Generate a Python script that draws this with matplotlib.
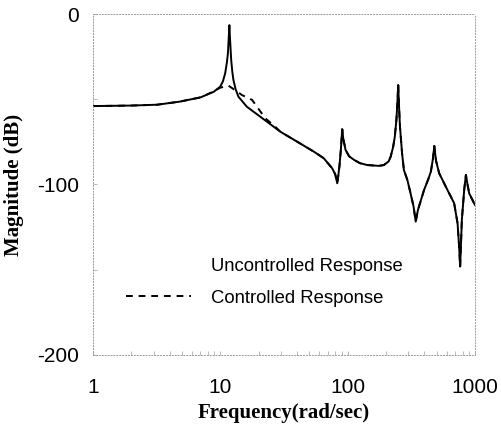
import numpy as np
import matplotlib.pyplot as plt
from matplotlib.ticker import FixedLocator, NullFormatter

# uncontrolled response (rad/sec, dB)
freq_unc = [1, 2, 3.2, 4.8, 7.0, 8.9, 10.0, 10.5, 10.95, 11.3, 11.5, 11.7, 11.8, 11.95,
            12.2, 12.45, 12.7, 13.2, 13.9, 16.2, 20.6, 29.6, 40.2, 54.5, 65, 75.7, 80,
            83, 84.5, 86.3, 88.5, 90.8, 92.5, 96.5, 103, 112.6, 125, 143, 176, 193, 210,
            218, 228, 235, 242, 246, 250, 254, 258, 268, 277, 295, 312, 330, 343, 357,
            399, 430, 451, 468, 480, 495, 524, 591, 687, 731, 752, 766, 790, 824, 850,
            875, 902, 1000]
mag_unc = [-54.0, -53.7, -53.2, -51.4, -48.9, -45.6, -42.6, -39.5, -34.6, -28.0, -22.9,
           -12.0, -6.5, -15.0, -27.0, -34.0, -38.7, -44.0, -48.5, -54.4, -60.2, -69.0,
           -74.9, -80.8, -84.6, -90.5, -94.0, -99.3, -95.0, -89.5, -80.0, -67.6, -73.0,
           -79.8, -83.5, -85.6, -87.5, -88.6, -89.1, -88.6, -86.5, -83.7, -78.0, -72.0,
           -62.0, -52.4, -41.6, -55.0, -66.0, -81.7, -91.5, -97.4, -105.0, -113.0,
           -121.8, -115.0, -103.2, -97.0, -92.5, -85.0, -77.4, -86.0, -93.4, -101.3,
           -111.0, -122.8, -136.5, -148.2, -120.8, -103.2, -94.4, -100.0, -105.2, -112.0]

# controlled response differs only around the first mode
freq_ctl_low = [1, 2, 3.2, 4.8, 7.0, 8.9, 10.0, 11.6, 13.0, 14.8, 17.8, 22.6, 27.0]
mag_ctl_low = [-54.0, -53.7, -53.2, -51.4, -48.9, -45.4, -43.2, -42.0, -44.5, -47.5,
               -50.4, -61.2, -66.0]

freq_unc = np.array(freq_unc)
mag_unc = np.array(mag_unc)
tail = freq_unc > freq_ctl_low[-1]
freq_ctl = np.concatenate([freq_ctl_low, freq_unc[tail]])
mag_ctl = np.concatenate([mag_ctl_low, mag_unc[tail]])

fig = plt.figure(figsize=(5.02, 4.26), dpi=100)
ax = fig.add_axes([0.185, 0.167, 0.761, 0.800])

line_u, = ax.plot(freq_unc, mag_unc, color='black', lw=1.4)
line_c, = ax.plot(freq_ctl, mag_ctl, color='black', lw=1.4, ls=(0, (3.5, 3)))

ax.set_xscale('log')
ax.set_xlim(1, 1000)
ax.set_ylim(-200, 0)

# ticks and labels
ax.set_xticks([1, 10, 100, 1000])
ax.set_xticklabels(['1', '10', '100', '1000'])
ax.xaxis.set_minor_formatter(NullFormatter())
ax.set_yticks([0, -100, -200])
ax.set_yticklabels(['0', '-100', '-200'])
ax.yaxis.set_minor_locator(FixedLocator([-50, -150]))
ax.tick_params(which='both', direction='in', color='#b0b0b0', width=0.6, length=3)
ax.tick_params(axis='x', which='major', labelsize=15, pad=17,
               labelfontfamily='Liberation Sans')
ax.tick_params(axis='y', which='major', labelsize=15, pad=10,
               labelfontfamily='Liberation Sans')

# faint scanned-looking frame
for s in ax.spines.values():
    s.set_color('#9a9a9a')
    s.set_linewidth(0.7)
    s.set_linestyle((0, (1, 2)))

ax.set_xlabel('Frequency(rad/sec)', family='Liberation Serif', weight='bold',
              fontsize=15, labelpad=4)
ax.set_ylabel('Magnitude (dB)', family='Liberation Serif', weight='bold',
              fontsize=15, labelpad=9)

leg = ax.legend([line_u, line_c], ['Uncontrolled Response', 'Controlled Response'],
                loc='upper left', bbox_to_anchor=(0.088, 0.283), frameon=False,
                prop={'family': 'Liberation Sans', 'size': 13.3},
                handlelength=3.5, handletextpad=1.1, labelspacing=0.78,
                borderpad=0, borderaxespad=0)
leg.legend_handles[0].set_visible(False)

fig.savefig('out.png', dpi=100)
